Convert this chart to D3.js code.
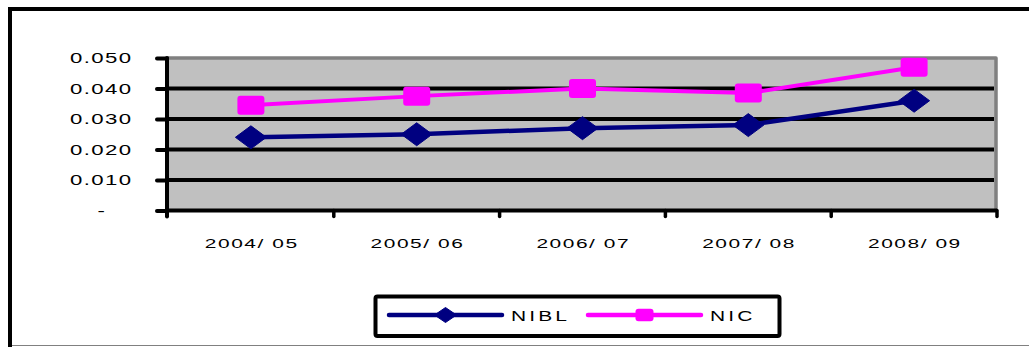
<!DOCTYPE html>
<html>
<head>
<meta charset="utf-8">
<script src="https://cdn.jsdelivr.net/npm/d3@7"></script>
<style>
  html, body { margin: 0; padding: 0; background: #fff; }
  svg { display: block; }
  text { font-family: "Liberation Sans", Arial, sans-serif; fill: #000; }
</style>
</head>
<body>
<svg id="chart" width="1029" height="347"></svg>
<script>
// Fiscal years on the category axis
const years = ["2004/ 05", "2005/ 06", "2006/ 07", "2007/ 08", "2008/ 09"];
// Ratio per bank, one value per fiscal year
const nibl = [0.024, 0.025, 0.027, 0.028, 0.036];
const nic = [0.0345, 0.0375, 0.040, 0.0385, 0.047];
// Value axis ticks
const yTicks = [0, 0.01, 0.02, 0.03, 0.04, 0.05];

const series = [
  { name: "NIBL", values: nibl, color: "#000080", marker: "diamond" },
  { name: "NIC", values: nic, color: "#FF00FF", marker: "square" }
];

const svg = d3.select("#chart");

const plot = { left: 168, right: 997, top: 58, bottom: 210.5 };

const x = d3.scaleBand().domain(years).range([plot.left, plot.right]);
const y = d3.scaleLinear().domain([0, 0.05]).range([plot.bottom, plot.top]);
const cx = d => x(d) + x.bandwidth() / 2;

// Horizontally widened text, as the labels are drawn in a stretched face
function wideText(g, txt, px, py, opts) {
  const sx = opts.sx, ls = opts.ls;
  let shift = 0;
  if (opts.anchor === "end") shift = ls * sx;
  else if (opts.anchor === "middle") shift = ls * sx / 2;
  return g.append("text")
    .attr("transform", `translate(${px + shift},${py}) scale(${sx},1)`)
    .attr("text-anchor", opts.anchor)
    .style("font-size", opts.size + "px")
    .style("letter-spacing", ls + "px")
    .text(txt);
}

// Outer chart frame
svg.append("path")
  .attr("d", "M10,347 L10,9 L1035,9")
  .attr("fill", "none").attr("stroke", "#000").attr("stroke-width", 4);
svg.append("line")
  .attr("x1", 12).attr("x2", 1029).attr("y1", 345.5).attr("y2", 345.5)
  .attr("stroke", "#808080").attr("stroke-width", 1);

// Plot area background and its grey border
svg.append("rect")
  .attr("x", plot.left).attr("y", plot.top)
  .attr("width", plot.right - plot.left).attr("height", plot.bottom - plot.top)
  .attr("fill", "#C0C0C0");
svg.append("path")
  .attr("d", `M${plot.left},${plot.top} L${plot.right - 1},${plot.top} L${plot.right - 1},${plot.bottom}`)
  .attr("fill", "none").attr("stroke", "#808080").attr("stroke-width", 3.5)
  .attr("stroke-linejoin", "round");

// Horizontal gridlines
svg.append("g").selectAll("line")
  .data(yTicks.filter(t => t > 0 && t < 0.05))
  .join("line")
  .attr("x1", plot.left).attr("x2", plot.right - 3)
  .attr("y1", d => y(d)).attr("y2", d => y(d))
  .attr("stroke", "#000").attr("stroke-width", 4.2);

// Value axis: ticks from d3.axisLeft, restyled
const yAxis = svg.append("g")
  .attr("transform", `translate(${plot.left - 1},0)`)
  .call(d3.axisLeft(y).tickValues(yTicks).tickSize(10).tickFormat(""));
yAxis.select(".domain").remove();
yAxis.selectAll(".tick line")
  .attr("stroke", "#000").attr("stroke-width", 4).attr("stroke-linecap", "round");
svg.append("line")
  .attr("x1", plot.left - 1).attr("x2", plot.left - 1)
  .attr("y1", plot.top).attr("y2", plot.bottom + 6)
  .attr("stroke", "#000").attr("stroke-width", 4).attr("stroke-linecap", "round");

// Category axis line and boundary ticks
svg.append("line")
  .attr("x1", plot.left - 1).attr("x2", plot.right)
  .attr("y1", plot.bottom).attr("y2", plot.bottom)
  .attr("stroke", "#000").attr("stroke-width", 4.2);
const bounds = years.slice(1).map(d => x(d)).concat([plot.right]);
svg.append("g").selectAll("line")
  .data(bounds)
  .join("line")
  .attr("x1", d => d).attr("x2", d => d)
  .attr("y1", plot.bottom).attr("y2", plot.bottom + 6)
  .attr("stroke", "#000").attr("stroke-width", 3.5).attr("stroke-linecap", "round");

// Value labels
const yLabels = svg.append("g");
yTicks.forEach(t => {
  const label = t === 0 ? "-" : d3.format(".3f")(t);
  const px = t === 0 ? 105 : 131;
  wideText(yLabels, label, px, y(t) + 5.2, { anchor: "end", size: 14.8, sx: 1.5, ls: 0.9 });
});

// Category labels
const xLabels = svg.append("g");
years.forEach(d => {
  wideText(xLabels, d, cx(d), 247.5, { anchor: "middle", size: 13.5, sx: 1.55, ls: 1.0 });
});

// Marker shapes
function drawMarker(g, kind, px, py, w, h, color) {
  if (kind === "diamond") {
    g.append("path")
      .attr("d", `M${px - w / 2},${py} L${px},${py - h / 2} L${px + w / 2},${py} L${px},${py + h / 2} Z`)
      .attr("fill", color).attr("stroke", color).attr("stroke-width", 1)
      .attr("stroke-linejoin", "round");
  } else {
    g.append("rect")
      .attr("x", px - w / 2).attr("y", py - h / 2)
      .attr("width", w).attr("height", h).attr("rx", 3)
      .attr("fill", color);
  }
}

// Series lines and markers
const line = d3.line().x((v, i) => cx(years[i])).y(v => y(v));
series.forEach(s => {
  const g = svg.append("g");
  g.append("path")
    .attr("d", line(s.values))
    .attr("fill", "none").attr("stroke", s.color)
    .attr("stroke-width", s.marker === "diamond" ? 4.5 : 4);
  s.values.forEach((v, i) => {
    if (s.marker === "diamond") drawMarker(g, "diamond", cx(years[i]), y(v), 31, 23, s.color);
    else drawMarker(g, "square", cx(years[i]), y(v), 27, 19, s.color);
  });
});

// Legend
const legend = svg.append("g");
legend.append("rect")
  .attr("x", 375.5).attr("y", 296.5).attr("width", 404).attr("height", 39.5)
  .attr("rx", 2).attr("fill", "#fff").attr("stroke", "#000").attr("stroke-width", 4);
const legendItems = [
  { s: series[0], x1: 389, x2: 502, tx: 511 },
  { s: series[1], x1: 588, x2: 701, tx: 710 }
];
legendItems.forEach(it => {
  legend.append("line")
    .attr("x1", it.x1).attr("x2", it.x2).attr("y1", 315).attr("y2", 315)
    .attr("stroke", it.s.color).attr("stroke-width", 4.5).attr("stroke-linecap", "round");
  const mx = (it.x1 + it.x2) / 2;
  if (it.s.marker === "diamond") drawMarker(legend, "diamond", mx, 315, 22, 15, it.s.color);
  else drawMarker(legend, "square", mx, 315, 18, 12.5, it.s.color);
  wideText(legend, it.s.name, it.tx, 321, { anchor: "start", size: 15, sx: 1.4, ls: 2.2 });
});
</script>
</body>
</html>
